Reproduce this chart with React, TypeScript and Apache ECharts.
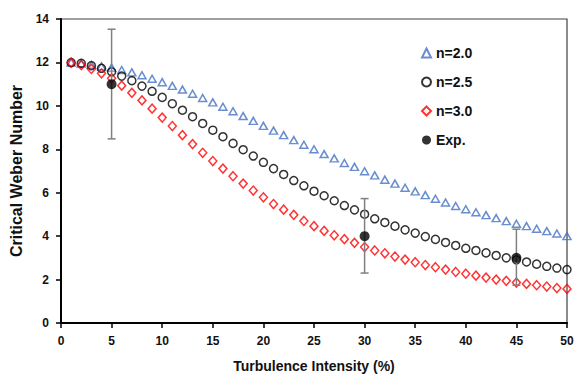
import React, { useEffect, useRef } from "react";
import * as echarts from "echarts";

const xValues = [1,2,3,4,5,6,7,8,9,10,11,12,13,14,15,16,17,18,19,20,21,22,23,24,25,26,27,28,29,30,31,32,33,34,35,36,37,38,39,40,41,42,43,44,45,46,47,48,49,50];
const n20 = [12.0,11.95,11.89,11.82,11.76,11.65,11.54,11.41,11.25,11.09,10.92,10.75,10.56,10.36,10.16,9.96,9.75,9.53,9.31,9.08,8.86,8.65,8.42,8.21,8.0,7.78,7.58,7.37,7.19,6.99,6.8,6.6,6.42,6.23,6.06,5.89,5.72,5.55,5.39,5.24,5.1,4.97,4.83,4.69,4.57,4.46,4.34,4.23,4.12,4.0];
const n25 = [11.99,11.96,11.85,11.73,11.57,11.37,11.16,10.91,10.67,10.39,10.1,9.8,9.5,9.19,8.88,8.58,8.27,7.98,7.69,7.4,7.11,6.84,6.56,6.32,6.07,5.86,5.63,5.41,5.21,5.01,4.8,4.63,4.46,4.29,4.14,3.98,3.85,3.71,3.57,3.44,3.34,3.23,3.11,3.0,2.91,2.81,2.71,2.61,2.53,2.46];
const n30 = [11.99,11.88,11.7,11.5,11.27,10.93,10.6,10.25,9.87,9.46,9.07,8.65,8.24,7.84,7.46,7.11,6.76,6.42,6.1,5.79,5.48,5.22,4.98,4.7,4.46,4.24,4.04,3.86,3.69,3.5,3.34,3.21,3.06,2.92,2.8,2.67,2.57,2.46,2.35,2.27,2.18,2.09,2.0,1.94,1.86,1.8,1.74,1.68,1.61,1.57];
const expX = [5, 30, 45];
const expY = [11, 4, 3];
const expLow = [8.48, 2.3, 1.74];
const expHigh = [13.53, 5.73, 4.32];

const FONT = "'Liberation Sans', Arial, sans-serif";

export default function App() {
  const ref = useRef<HTMLDivElement>(null);
  useEffect(() => {
    if (!ref.current) return;
    const chart = echarts.init(ref.current, null, { renderer: "svg" });
    const pair = (ys: number[]) => xValues.map((x, i) => [x, ys[i]]);
    chart.setOption({
      animation: false,
      backgroundColor: "#ffffff",
      grid: {
        left: 61, top: 19, right: 8, bottom: 53,
        outerBoundsMode: "none", containLabel: false,
        show: true, borderColor: "#404040", borderWidth: 1.2, backgroundColor: "transparent",
      },
      legend: {
        orient: "vertical",
        left: 416, top: 41,
        itemWidth: 9, itemHeight: 9, itemGap: 15,
        textStyle: { fontFamily: FONT, fontWeight: "bold", fontSize: 14, color: "#111" },
        data: ["n=2.0", "n=2.5", "n=3.0", "Exp."],
      },
      xAxis: {
        type: "value", min: 0, max: 50, interval: 5,
        name: "Turbulence Intensity (%)", nameLocation: "middle", nameGap: 36,
        nameTextStyle: { fontFamily: FONT, fontWeight: "bold", fontSize: 14, color: "#111", verticalAlign: "top" },
        axisLine: { show: true, onZero: false, lineStyle: { color: "#000", width: 2 } },
        axisTick: { show: true, inside: false, length: 5, lineStyle: { color: "#000", width: 1.5 } },
        axisLabel: { margin: 12, fontFamily: FONT, fontWeight: "bold", fontSize: 12, color: "#111" },
        splitLine: { show: false },
      },
      yAxis: {
        type: "value", min: 0, max: 14, interval: 2,
        name: "Critical Weber Number", nameLocation: "middle", nameGap: 35,
        nameTextStyle: { fontFamily: FONT, fontWeight: "bold", fontSize: 16, color: "#111" },
        axisLine: { show: true, onZero: false, lineStyle: { color: "#000", width: 2 } },
        axisTick: { show: true, inside: false, length: 5, lineStyle: { color: "#000", width: 1.5 } },
        axisLabel: { margin: 12, fontFamily: FONT, fontWeight: "bold", fontSize: 12, color: "#111" },
        splitLine: { show: false },
      },
      series: [
        {
          name: "n=2.0", type: "scatter", symbol: "triangle", symbolSize: [8, 7],
          itemStyle: { color: "rgba(255,255,255,0)", borderColor: "#4472C4", borderWidth: 1.5 },
          data: pair(n20),
        },
        {
          name: "n=2.5", type: "scatter", symbol: "circle", symbolSize: 8,
          itemStyle: { color: "rgba(255,255,255,0)", borderColor: "#000000", borderWidth: 1.5 },
          data: pair(n25),
        },
        {
          name: "n=3.0", type: "scatter", symbol: "diamond", symbolSize: [8, 9],
          itemStyle: { color: "rgba(255,255,255,0)", borderColor: "#FF0000", borderWidth: 1.5 },
          data: pair(n30),
        },
        {
          name: "errorbars", type: "custom",
          data: expX.map((x, i) => [x, expLow[i], expHigh[i]]),
          renderItem: (params: any, api: any) => {
            const x = api.value(0);
            const lo = api.coord([x, api.value(1)]);
            const hi = api.coord([x, api.value(2)]);
            const w = 4;
            const style = { stroke: "#808080", lineWidth: 1.5 };
            return {
              type: "group",
              children: [
                { type: "line", shape: { x1: lo[0], y1: lo[1], x2: hi[0], y2: hi[1] }, style },
                { type: "line", shape: { x1: lo[0] - w, y1: lo[1], x2: lo[0] + w, y2: lo[1] }, style },
                { type: "line", shape: { x1: hi[0] - w, y1: hi[1], x2: hi[0] + w, y2: hi[1] }, style },
              ],
            };
          },
          z: 3,
        },
        {
          name: "Exp.", type: "scatter", symbol: "circle", symbolSize: 10,
          itemStyle: { color: "#000000" },
          data: expX.map((x, i) => [x, expY[i]]),
          z: 4,
        },
      ],
    });
    return () => chart.dispose();
  }, []);
  return <div ref={ref} style={{ width: 575, height: 376, position: "absolute", left: 0, top: 0 }} />;
}
